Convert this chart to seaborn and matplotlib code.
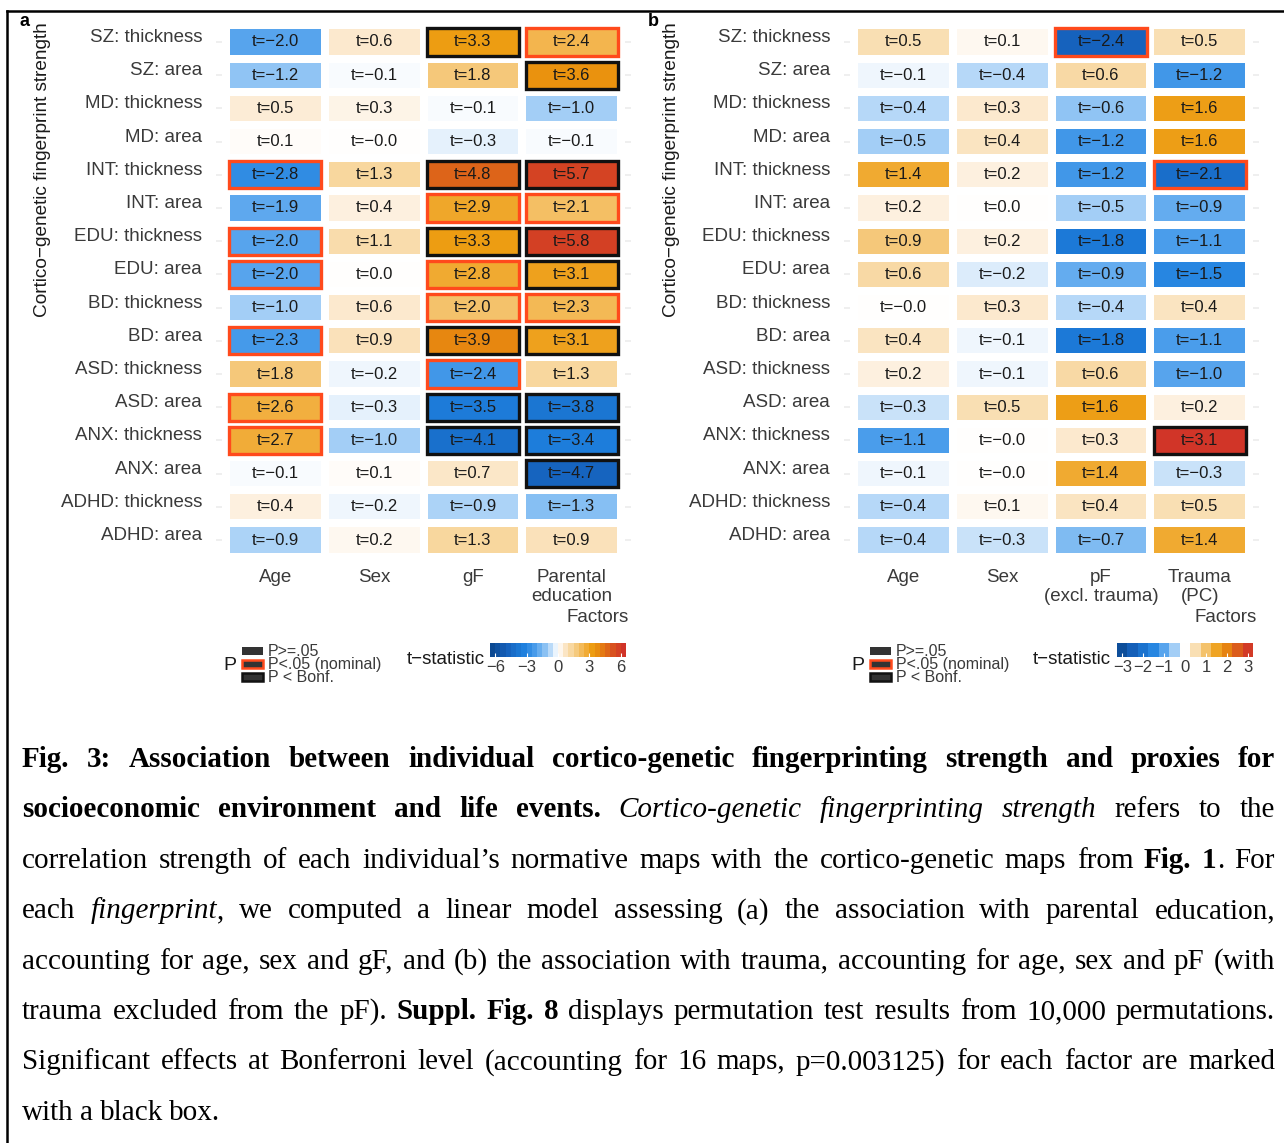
import numpy as np
import pandas as pd
import seaborn as sns
import matplotlib.pyplot as plt
import matplotlib.cm as cm
from matplotlib.colors import LinearSegmentedColormap, Normalize
from matplotlib.patches import Rectangle
from matplotlib.lines import Line2D
from matplotlib.transforms import ScaledTranslation

plt.rcParams['font.family'] = ['Liberation Sans', 'DejaVu Sans']

# ---- data ----
maps = ["SZ: thickness", "SZ: area", "MD: thickness", "MD: area",
        "INT: thickness", "INT: area", "EDU: thickness", "EDU: area",
        "BD: thickness", "BD: area", "ASD: thickness", "ASD: area",
        "ANX: thickness", "ANX: area", "ADHD: thickness", "ADHD: area"]

factors_a = ["Age", "Sex", "gF", "Parental\neducation"]
factors_b = ["Age", "Sex", "pF\n(excl. trauma)", "Trauma\n(PC)"]

# panel a: t statistics per factor (rows follow maps)
t_age_a = [-2.0, -1.2, 0.5, 0.1, -2.8, -1.9, -2.0, -2.0, -1.0, -2.3, 1.8, 2.6, 2.7, -0.1, 0.4, -0.9]
t_sex_a = [0.6, -0.1, 0.3, -0.0, 1.3, 0.4, 1.1, 0.0, 0.6, 0.9, -0.2, -0.3, -1.0, 0.1, -0.2, 0.2]
t_gf_a = [3.3, 1.8, -0.1, -0.3, 4.8, 2.9, 3.3, 2.8, 2.0, 3.9, -2.4, -3.5, -4.1, 0.7, -0.9, 1.3]
t_pe_a = [2.4, 3.6, -1.0, -0.1, 5.7, 2.1, 5.8, 3.1, 2.3, 3.1, 1.3, -3.8, -3.4, -4.7, -1.3, 0.9]

# significance: 0 = P>=.05, 1 = P<.05 nominal, 2 = P < Bonf.
sig_age_a = [0, 0, 0, 0, 1, 0, 1, 1, 0, 1, 0, 1, 1, 0, 0, 0]
sig_sex_a = [0, 0, 0, 0, 0, 0, 0, 0, 0, 0, 0, 0, 0, 0, 0, 0]
sig_gf_a = [2, 0, 0, 0, 2, 1, 2, 1, 1, 2, 1, 2, 2, 0, 0, 0]
sig_pe_a = [1, 2, 0, 0, 2, 1, 2, 2, 1, 2, 0, 2, 2, 2, 0, 0]

# panel b
t_age_b = [0.5, -0.1, -0.4, -0.5, 1.4, 0.2, 0.9, 0.6, -0.0, 0.4, 0.2, -0.3, -1.1, -0.1, -0.4, -0.4]
t_sex_b = [0.1, -0.4, 0.3, 0.4, 0.2, 0.0, 0.2, -0.2, 0.3, -0.1, -0.1, 0.5, -0.0, -0.0, 0.1, -0.3]
t_pf_b = [-2.4, 0.6, -0.6, -1.2, -1.2, -0.5, -1.8, -0.9, -0.4, -1.8, 0.6, 1.6, 0.3, 1.4, 0.4, -0.7]
t_trauma_b = [0.5, -1.2, 1.6, 1.6, -2.1, -0.9, -1.1, -1.5, 0.4, -1.1, -1.0, 0.2, 3.1, -0.3, 0.5, 1.4]

sig_age_b = [0, 0, 0, 0, 0, 0, 0, 0, 0, 0, 0, 0, 0, 0, 0, 0]
sig_sex_b = [0, 0, 0, 0, 0, 0, 0, 0, 0, 0, 0, 0, 0, 0, 0, 0]
sig_pf_b = [1, 0, 0, 0, 0, 0, 0, 0, 0, 0, 0, 0, 0, 0, 0, 0]
sig_trauma_b = [0, 0, 0, 0, 1, 0, 0, 0, 0, 0, 0, 0, 2, 0, 0, 0]

legend_labels = ["P>=.05", "P<.05 (nominal)", "P < Bonf."]

W, H = 1284, 1143
fx = lambda x: x / W
fy = lambda y: 1 - y / H

cmap = LinearSegmentedColormap.from_list("tstat", [
    (0.00, "#0A468C"), (0.12, "#1560BA"), (0.25, "#1E80DE"), (0.33, "#4A9DEB"),
    (0.40, "#86BFF3"), (0.46, "#CFE5FA"), (0.50, "#FFFFFF"), (0.54, "#FCEBD3"),
    (0.62, "#F6D08C"), (0.70, "#F2B041"), (0.76, "#EC9A0C"), (0.84, "#E27414"),
    (0.92, "#D64A20"), (1.00, "#CF2E2A")])
sig_colors = {1: "#FF4A1C", 2: "#111111"}
txt_col = "#3A3A3A"

fig = plt.figure(figsize=(W / 100, H / 100), dpi=100)


def draw_panel(left, cols, tvals, sigs, lim):
    ax = fig.add_axes([fx(left), fy(560), 415 / W, 538 / H])
    df = pd.DataFrame(np.array(tvals).T, index=maps, columns=cols)
    labels = np.array([["t=" + f"{v:.1f}".replace("-", "\u2212") for v in row] for row in df.values])
    sns.heatmap(df, ax=ax, cmap=cmap, vmin=-lim, vmax=lim, cbar=False,
                annot=labels, fmt="", linewidths=4.6, linecolor="white",
                annot_kws=dict(color="#1a1a1a", fontsize=12))
    sig = np.array(sigs).T
    gx, gy = 0.035, 0.09
    for i in range(sig.shape[0]):
        for j in range(sig.shape[1]):
            if sig[i, j]:
                ax.add_patch(Rectangle((j + gx, i + gy), 1 - 2 * gx, 1 - 2 * gy, fill=False,
                                       ec=sig_colors[sig[i, j]], lw=2.4, zorder=2.5))
    ax.set_xlim(-0.1, 4.1)
    ax.set_ylim(16.1, -0.1)
    ax.grid(True, color="#EBEBEB", lw=1.1)
    ax.set_axisbelow(True)
    ax.set_xlabel("")
    ax.set_ylabel("")
    ax.set_xticklabels(cols, rotation=0, fontsize=13.5, color=txt_col, linespacing=1.15)
    ax.set_yticklabels(maps, rotation=0, fontsize=13.5, color=txt_col)
    ax.tick_params(axis="x", length=0, pad=6.5)
    ax.tick_params(axis="y", length=0, pad=10)
    shift = ScaledTranslation(0, 0.045, fig.dpi_scale_trans)
    for lab in ax.get_yticklabels():
        lab.set_transform(lab.get_transform() + shift)
    for s in ax.spines.values():
        s.set_visible(False)
    fig.text(fx(left + 413), fy(618), "Factors", ha="right", va="center",
             fontsize=13.5, color=txt_col)
    return ax


def draw_legend(x0, stat_x, cb_x0, lim, ticks):
    fig.text(fx(x0), fy(665), "P", ha="left", va="center", fontsize=14, color="#1a1a1a")
    for k, (yc, lab) in enumerate(zip([651, 664, 677], legend_labels)):
        ec = sig_colors.get(k, "none")
        fig.add_artist(Rectangle((fx(x0 + 19), fy(yc + 4)), 21 / W, 8 / H, transform=fig.transFigure,
                                 fc="#333333", ec=ec, lw=1.8))
        fig.text(fx(x0 + 45), fy(yc), lab, ha="left", va="center", fontsize=11.5, color=txt_col)
    fig.text(fx(stat_x), fy(659), "t\u2212statistic", ha="right", va="center", fontsize=13.5,
             color="#1a1a1a")
    cax = fig.add_axes([fx(cb_x0), fy(657), 136 / W, 14 / H])
    cb = fig.colorbar(cm.ScalarMappable(norm=Normalize(-lim, lim), cmap=cmap), cax=cax,
                      orientation="horizontal", boundaries=np.arange(-lim, lim + 0.01, 0.5),
                      ticks=ticks)
    cb.outline.set_visible(False)
    cax.tick_params(length=3, color="white", direction="in", labelsize=12, pad=2,
                    labelcolor=txt_col)


draw_panel(216, factors_a, [t_age_a, t_sex_a, t_gf_a, t_pe_a],
           [sig_age_a, sig_sex_a, sig_gf_a, sig_pe_a], 6.5)
draw_panel(844, factors_b, [t_age_b, t_sex_b, t_pf_b, t_trauma_b],
           [sig_age_b, sig_sex_b, sig_pf_b, sig_trauma_b], 3.25)

for x in (43, 671):
    fig.text(fx(x), fy(22), "Cortico\u2212genetic fingerprint strength", rotation=90,
             ha="center", va="top", fontsize=13.7, color="#1a1a1a")
fig.text(fx(20), fy(22), "a", fontweight="bold", fontsize=13, va="center")
fig.text(fx(648), fy(21), "b", fontweight="bold", fontsize=13, va="center")

draw_legend(223, 485, 490, 6.5, [-6, -3, 0, 3, 6])
draw_legend(851, 1111, 1117, 3.25, [-3, -2, -1, 0, 1, 2, 3])

# frame lines
fig.add_artist(Line2D([fx(6.5), fx(6.5)], [0, fy(11)], color="black", lw=1.8, transform=fig.transFigure))
fig.add_artist(Line2D([fx(6.5), 1], [fy(11), fy(11)], color="black", lw=1.8, transform=fig.transFigure))

# ---- caption (justified) ----
caption = [
    [("Fig. 3: Association between individual cortico-genetic fingerprinting strength and proxies for", "b")],
    [("socioeconomic environment and life events.", "b"), (" ", "n"),
     ("Cortico-genetic fingerprinting strength", "i"), (" refers to the", "n")],
    [("correlation strength of each individual\u2019s normative maps with the cortico-genetic maps from ", "n"),
     ("Fig. 1", "b"), (". For", "n")],
    [("each ", "n"), ("fingerprint", "i"),
     (", we computed a linear model assessing (a) the association with parental education,", "n")],
    [("accounting for age, sex and gF, and (b) the association with trauma, accounting for age, sex and pF (with", "n")],
    [("trauma excluded from the pF). ", "n"), ("Suppl. Fig. 8", "b"),
     (" displays permutation test results from 10,000 permutations.", "n")],
    [("Significant effects at Bonferroni level (accounting for 16 maps, p=0.003125) for each factor are marked", "n")],
    [("with a black box.", "n")],
]
styles = {"n": dict(), "b": dict(fontweight="bold"), "i": dict(fontstyle="italic")}
renderer = fig.canvas.get_renderer()
x_left, x_right = 22, 1275
for li, chunks in enumerate(caption):
    words = [[]]
    for text, st in chunks:
        for k, part in enumerate(text.split(" ")):
            if k > 0:
                words.append([])
            if part:
                words[-1].append((part, st))
    words = [w for w in words if w]
    base = fy(767 + 50.4 * li)
    placed = []
    for w in words:
        segs = []
        for part, st in w:
            t = fig.text(0, base, part, family="Liberation Serif", fontsize=21, va="baseline",
                         color="black", **styles[st])
            segs.append((t, t.get_window_extent(renderer).width))
        placed.append(segs)
    widths = [sum(s[1] for s in segs) for segs in placed]
    if li < len(caption) - 1:
        gap = (x_right - x_left - sum(widths)) / (len(words) - 1)
    else:
        gap = 6.5
    x = x_left
    for segs, wd in zip(placed, widths):
        xs = x
        for t, sw in segs:
            t.set_x(fx(xs))
            xs += sw
        x += wd + gap

fig.savefig("out.png", dpi=100)
